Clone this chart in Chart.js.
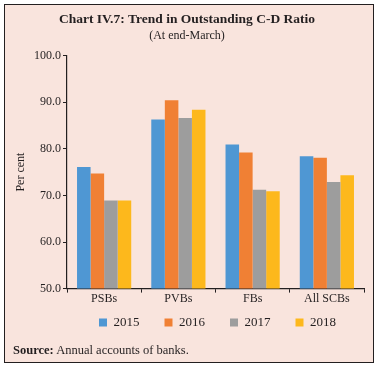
<!DOCTYPE html>
<html lang="en">
<head>
<meta charset="UTF-8">
<title>C-D Ratio</title>
<script src="https://cdn.jsdelivr.net/npm/chart.js"></script>
<style>
    /* page and frame */
    body {
        margin: 0px;
        background: #ffffff;
        font-family: "Liberation Serif", "DejaVu Serif", serif;
    }
    .frame {
        position: absolute;
        left: 4px;
        top: 4px;
        width: 368px;
        height: 357px;
        border: 1.5px solid #231f20;
        background: #f9e4dd;
    }
    .wrap {
        position: absolute;
        left: 0px;
        top: 0px;
        width: 379px;
        height: 368px;
    }
    .source {
        position: absolute;
        left: 13px;
        top: 343px;
        font-size: 12.5px;
        color: #231f20;
    }
</style>
</head>
<body>
<div class="frame"></div>
<div class="wrap">
    <canvas id="graph1"></canvas>
</div>
<div class="source"><b>Source:</b> Annual accounts of banks.</div>

<script>
    const categories = ['PSBs', 'PVBs', 'FBs', 'All SCBs'];
    const years = ['2015', '2016', '2017', '2018'];
    const colors = ['#4f97d3', '#f08034', '#9d9d9d', '#fdb81c'];

    // ratio in per cent, one array per year
    const val2015 = [76.1, 86.3, 80.9, 78.4];
    const val2016 = [74.7, 90.4, 79.2, 78.1];
    const val2017 = [68.9, 86.6, 71.2, 72.9];
    const val2018 = [68.9, 88.4, 70.9, 74.3];

    const yTicks = [50, 60, 70, 80, 90, 100];

    const allValues = [val2015, val2016, val2017, val2018];
    const ink = '#231f20';
    const serif = '"Liberation Serif", "DejaVu Serif", serif';

    Chart.defaults.font.family = serif;
    Chart.defaults.color = ink;

    // legend items are spaced wide, so pull the legend row up a bit
    const legendShift = {
        id: 'legendShift',
        afterLayout: function(chart) {
            chart.legend.top -= 14;
            chart.legend.bottom -= 14;
            chart.legend.left += 2;
            chart.legend.right += 2;
        }
    };

    const config = {
        type: 'bar',
        data: {
            labels: categories,
            datasets: years.map(function(y, i) {
                return {
                    label: y,
                    data: allValues[i],
                    backgroundColor: colors[i],
                    barPercentage: 1.0,
                    categoryPercentage: 0.73
                };
            })
        },
        options: {
            responsive: true,
            maintainAspectRatio: false,
            animation: false,
            layout: {
                padding: {left: 10, right: 15, top: 11, bottom: 23}
            },
            plugins: {
                title: {
                    display: true,
                    text: 'Chart IV.7: Trend in Outstanding C-D Ratio',
                    font: {size: 13.5, weight: 'bold'},
                    color: ink,
                    padding: {top: 0, bottom: 1}
                },
                subtitle: {
                    display: true,
                    text: '(At end-March)',
                    font: {size: 12},
                    color: ink,
                    padding: {bottom: 13}
                },
                legend: {
                    position: 'bottom',
                    fullSize: false,
                    maxHeight: 40,
                    labels: {
                        boxWidth: 8,
                        boxHeight: 8,
                        font: {size: 13},
                        color: ink,
                        padding: 25
                    }
                },
                tooltip: {enabled: false}
            },
            scales: {
                x: {
                    grid: {
                        offset: true,
                        drawOnChartArea: false,
                        tickLength: 4,
                        color: ink
                    },
                    border: {color: ink, width: 1.2},
                    ticks: {font: {size: 12}, color: ink, padding: -1}
                },
                y: {
                    min: 50,
                    max: 100,
                    afterBuildTicks: function(scale) {
                        scale.ticks = yTicks.map(function(v) { return {value: v}; });
                    },
                    afterFit: function(scale) {
                        scale.width = 57;
                    },
                    grid: {
                        drawOnChartArea: false,
                        tickLength: 4,
                        color: ink
                    },
                    border: {color: ink, width: 1.2},
                    ticks: {
                        font: {size: 12},
                        color: ink,
                        padding: 2,
                        callback: function(v) { return Number(v).toFixed(1); }
                    },
                    title: {
                        display: true,
                        text: 'Per cent',
                        font: {size: 12},
                        color: ink,
                        padding: {bottom: 8}
                    }
                }
            }
        },
        plugins: [legendShift]
    };

    let graph1 = new Chart(document.getElementById('graph1'), config);
</script>
</body>
</html>
